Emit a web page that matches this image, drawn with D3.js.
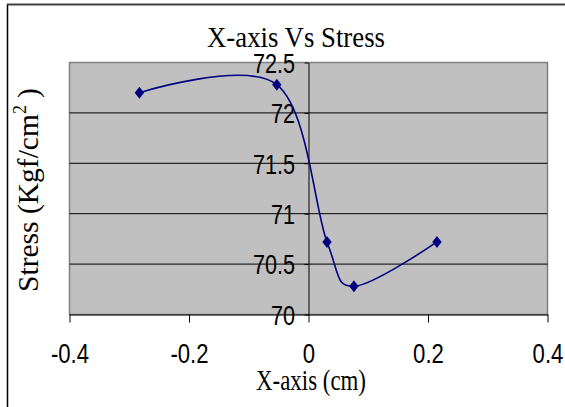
<!DOCTYPE html>
<html><head><meta charset="utf-8">
<script src="https://cdn.jsdelivr.net/npm/d3@7"></script>
<style>body{margin:0;background:#fff}svg{display:block}</style>
</head><body><svg id="c" width="565" height="407"></svg>
<script>
const xValues = [-0.283, -0.053, 0.031, 0.076, 0.215];
const stress  = [72.20, 72.28, 70.72, 70.28, 70.72];
const xTicks = [-0.4, -0.2, 0, 0.2, 0.4];
const yTicks = [70, 70.5, 71, 71.5, 72, 72.5];
const chartTitle = "X-axis Vs Stress";
const xTitle = "X-axis (cm)";
const yTitleMain = "Stress (Kgf/cm";
const yTitleSup = "2";
const yTitleEnd = " )";

const svg = d3.select("#c");
const x = d3.scaleLinear().domain([-0.4, 0.4]).range([69.5, 547.5]);
const y = d3.scaleLinear().domain([70, 72.5]).range([314.5, 62.5]);
const serif = "'Liberation Serif','Times New Roman',serif";
const sans = "'Liberation Sans',Arial,sans-serif";

// outer chart border
svg.append("rect").attr("x", 7.5).attr("y", 4.5).attr("width", 700).attr("height", 600)
  .attr("fill", "none").attr("stroke", "#000").attr("stroke-width", 1.5);
svg.append("line").attr("x1", 7).attr("x2", 565).attr("y1", 4.5).attr("y2", 4.5)
  .attr("stroke", "#404040").attr("stroke-width", 1.5);

// plot area
svg.append("rect").attr("x", x(-0.4)).attr("y", y(72.5))
  .attr("width", x(0.4) - x(-0.4)).attr("height", y(70) - y(72.5))
  .attr("fill", "#c0c0c0").attr("stroke", "#808080").attr("stroke-width", 1.5);

// gridlines
svg.append("g").selectAll("line").data(yTicks.filter(d => d > 70 && d < 72.5)).join("line")
  .attr("x1", x(-0.4)).attr("x2", x(0.4)).attr("y1", d => y(d)).attr("y2", d => y(d))
  .attr("stroke", "#000").attr("stroke-width", 1);

// x axis at y = 70
const gx = svg.append("g").attr("transform", `translate(0,${y(70)})`)
  .call(d3.axisBottom(x).tickValues(xTicks).tickFormat(d => String(d)).tickSize(8).tickSizeOuter(0));
gx.select(".domain").attr("stroke", "#000");
gx.selectAll(".tick line").attr("stroke", "#000");
gx.selectAll(".tick text").attr("y", 49).attr("dy", 0)
  .attr("font-family", sans).attr("font-size", 27).attr("fill", "#000")
  .attr("transform", "scale(0.82,1)");

// y axis at x = 0
const gy = svg.append("g").attr("transform", `translate(${x(0)},0)`)
  .call(d3.axisLeft(y).tickValues(yTicks).tickFormat(d => String(d)).tickSize(4).tickSizeOuter(0));
gy.select(".domain").attr("stroke", "#000");
gy.selectAll(".tick line").attr("stroke", "#000");
gy.selectAll(".tick text").attr("x", -13.5 / 0.8).attr("dy", "0.36em")
  .attr("font-family", sans).attr("font-size", 27).attr("fill", "#000")
  .attr("transform", "scale(0.8,1)");

// series line
const pts = xValues.map((v, i) => [v, stress[i]]);
const line = d3.line().x(d => x(d[0])).y(d => y(d[1])).curve(d3.curveCardinal.tension(0));
svg.append("path").attr("d", line(pts)).attr("fill", "none")
  .attr("stroke", "#000080").attr("stroke-width", 1.6);

// diamond markers
const diamond = { draw(ctx, size) { const w = 4.7, h = 6; ctx.moveTo(0, -h); ctx.lineTo(w, 0); ctx.lineTo(0, h); ctx.lineTo(-w, 0); ctx.closePath(); } };
svg.append("g").selectAll("path").data(pts).join("path")
  .attr("transform", d => `translate(${x(d[0])},${y(d[1])})`)
  .attr("d", d3.symbol().type(diamond)()).attr("fill", "#000080");

// helper: squeeze text horizontally to a target width
function squeeze(sel, cx, cy, target, rotate) {
  const w = sel.node().getComputedTextLength();
  const s = target / w;
  sel.attr("transform", `translate(${cx},${cy})${rotate ? " rotate(-90)" : ""} scale(${s},1)`);
}

// title
const t = svg.append("text").text(chartTitle).attr("text-anchor", "middle")
  .attr("font-family", serif).attr("font-size", 30).attr("fill", "#000");
squeeze(t, 296, 46.5, 178);

// x title
const xt = svg.append("text").text(xTitle).attr("text-anchor", "middle")
  .attr("font-family", serif).attr("font-size", 30).attr("fill", "#000");
squeeze(xt, 311, 390, 110);

// y title
const yt = svg.append("text").attr("text-anchor", "middle")
  .attr("font-family", serif).attr("font-size", 30).attr("fill", "#000");
yt.append("tspan").text(yTitleMain);
yt.append("tspan").text(yTitleSup).attr("font-size", 18).attr("dy", -12);
yt.append("tspan").text(yTitleEnd).attr("dy", 12);
squeeze(yt, 37.5, 190, 204, true);
</script></body></html>
